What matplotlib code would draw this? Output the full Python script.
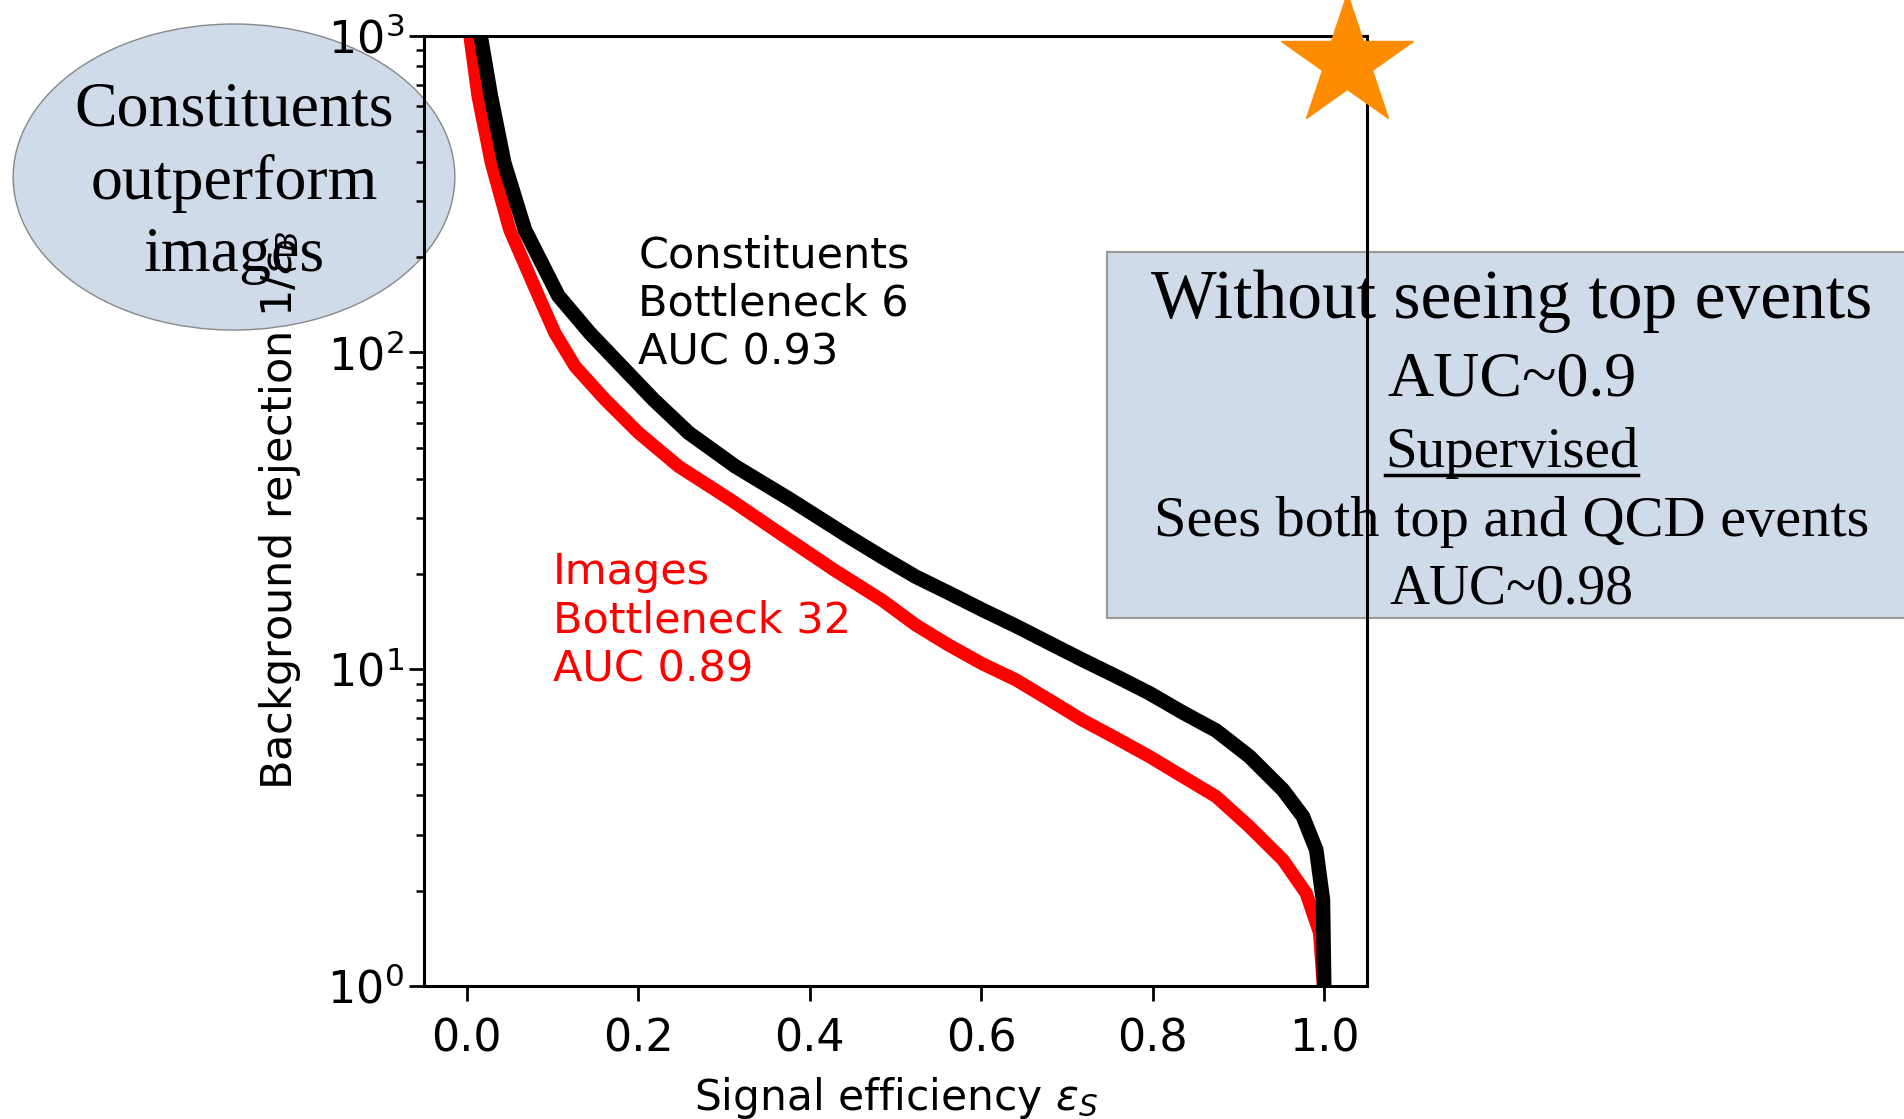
import matplotlib
matplotlib.use("Agg")
import matplotlib.pyplot as plt
from matplotlib.patches import Ellipse, Rectangle
from matplotlib.lines import Line2D

# ROC curves
const_eff = [0.016, 0.028, 0.0436, 0.0677, 0.1067, 0.1437, 0.1806, 0.2177, 0.2586, 0.3131,
             0.3774, 0.4455, 0.4844, 0.5234, 0.5623, 0.6012, 0.6402, 0.6792, 0.7181, 0.7571,
             0.7960, 0.8349, 0.8739, 0.9128, 0.9518, 0.9751, 0.9907, 0.9985, 1.0]
const_rej = [1000, 645, 397, 244, 151, 115, 90.4, 71, 55.8, 43.7,
             34.3, 26.2, 22.6, 19.6, 17.4, 15.4, 13.7, 12.1, 10.7, 9.5,
             8.4, 7.3, 6.4, 5.3, 4.16, 3.43, 2.69, 1.87, 1.0]

img_eff = [0.0035, 0.013, 0.0285, 0.05, 0.0853, 0.1028, 0.1262, 0.1612, 0.2001, 0.2469,
           0.3073, 0.3637, 0.428, 0.4844, 0.5234, 0.5623, 0.6012, 0.6402, 0.6792, 0.7181,
           0.7571, 0.7960, 0.8349, 0.8739, 0.9128, 0.9518, 0.979, 0.9946, 0.999]
img_rej = [1000, 645, 397, 244, 147, 115, 90.4, 71, 55.8, 43.7,
           34.3, 27.0, 20.6, 16.5, 13.8, 11.9, 10.4, 9.26, 8.0, 6.9,
           6.06, 5.3, 4.58, 3.96, 3.18, 2.5, 1.96, 1.47, 1.0]

const_label = "Constituents\nBottleneck 6\nAUC 0.93"
img_label = "Images\nBottleneck 32\nAUC 0.89"
star_pos = (1.027, 824)

box_lines = ["Without seeing top events", "AUC~0.9", "Supervised",
             "Sees both top and QCD events", "AUC~0.98"]
bubble_text = "Constituents\noutperform\nimages"

fig = plt.figure(figsize=(19.04, 11.19), dpi=100)
fig.patch.set_facecolor("white")
ax = fig.add_axes([0.2227, 0.119, 0.4953, 0.849])
ax.patch.set_alpha(0)

ax.plot(img_eff, img_rej, color="red", lw=9.5, solid_capstyle="butt")
ax.plot(const_eff, const_rej, color="black", lw=10.5, solid_capstyle="butt")
ax.set_yscale("log")
ax.set_ylim(1, 1000)
ax.set_xlim(-0.05, 1.05)

ax.set_xlabel(r"Signal efficiency $\varepsilon_S$", fontsize=30.5, labelpad=10)
ax.set_ylabel(r"Background rejection $1/\varepsilon_B$", fontsize=31, labelpad=17)
ax.tick_params(which="major", labelsize=32, length=11, width=2)
ax.tick_params(axis="x", pad=12)
ax.tick_params(which="minor", length=6, width=1.8)
for s in ax.spines.values():
    s.set_linewidth(2.2)

ax.text(0.2, 236, const_label, color="black", fontsize=31, va="top", ha="left", linespacing=1.2)
ax.text(0.1, 23.6, img_label, color="red", fontsize=31, va="top", ha="left", linespacing=1.2)

ax.plot(*star_pos, marker="*", ms=100, color="darkorange", clip_on=False, zorder=10)

# overlay shapes drawn behind the axes
fig.patches.append(Ellipse((0.1229, 0.8418), 0.232, 0.2735, transform=fig.transFigure,
                           facecolor="#cfdbe8", edgecolor="#888888", lw=1, zorder=-2))
fig.patches.append(Rectangle((0.5814, 0.4477), 0.42, 0.327, transform=fig.transFigure,
                             facecolor="#cfdbe8", edgecolor="#999999", lw=1.5, zorder=-2))

serif = "Liberation Serif"
fig.text(0.1229, 0.836, bubble_text, family=serif, fontsize=46, ha="center", va="center",
         linespacing=1.32, zorder=-1)

ys = [0.7307, 0.6602, 0.5951, 0.5332, 0.4736]
sizes = [50, 46, 41, 42, 40]
texts = []
for line, y, fs in zip(box_lines, ys, sizes):
    texts.append(fig.text(0.794, y, line, family=serif, fontsize=fs, ha="center", va="center", zorder=-1))

# underline "Supervised"
fig.canvas.draw()
bb = texts[2].get_window_extent().transformed(fig.transFigure.inverted())
fig.add_artist(Line2D([bb.x0, bb.x1], [bb.y0 + 0.004, bb.y0 + 0.004], color="black", lw=2.5,
                      transform=fig.transFigure, zorder=-1))

fig.savefig("out.png", dpi=100)
